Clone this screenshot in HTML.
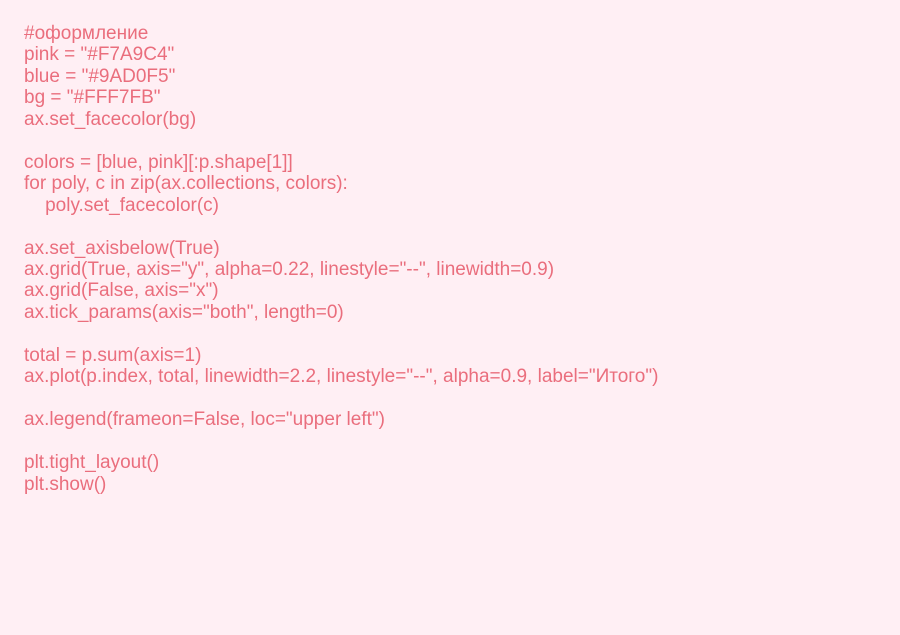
<!DOCTYPE html>
<html><head><meta charset="utf-8"><style>
html,body{margin:0;padding:0;}
body{width:900px;height:635px;background:#FFEFF4;overflow:hidden;}
pre{margin:0;position:absolute;left:24px;top:23px;font-family:"Liberation Sans",sans-serif;font-size:19px;line-height:21.45px;color:#EA6E7D;white-space:pre;}
</style></head><body>
<pre>#оформление
pink = "#F7A9C4"
blue = "#9AD0F5"
bg = "#FFF7FB"
ax.set_facecolor(bg)

colors = [blue, pink][:p.shape[1]]
for poly, c in zip(ax.collections, colors):
    poly.set_facecolor(c)

ax.set_axisbelow(True)
ax.grid(True, axis="y", alpha=0.22, linestyle="--", linewidth=0.9)
ax.grid(False, axis="x")
ax.tick_params(axis="both", length=0)

total = p.sum(axis=1)
ax.plot(p.index, total, linewidth=2.2, linestyle="--", alpha=0.9, label="Итого")

ax.legend(frameon=False, loc="upper left")

plt.tight_layout()
plt.show()</pre>
</body></html>
